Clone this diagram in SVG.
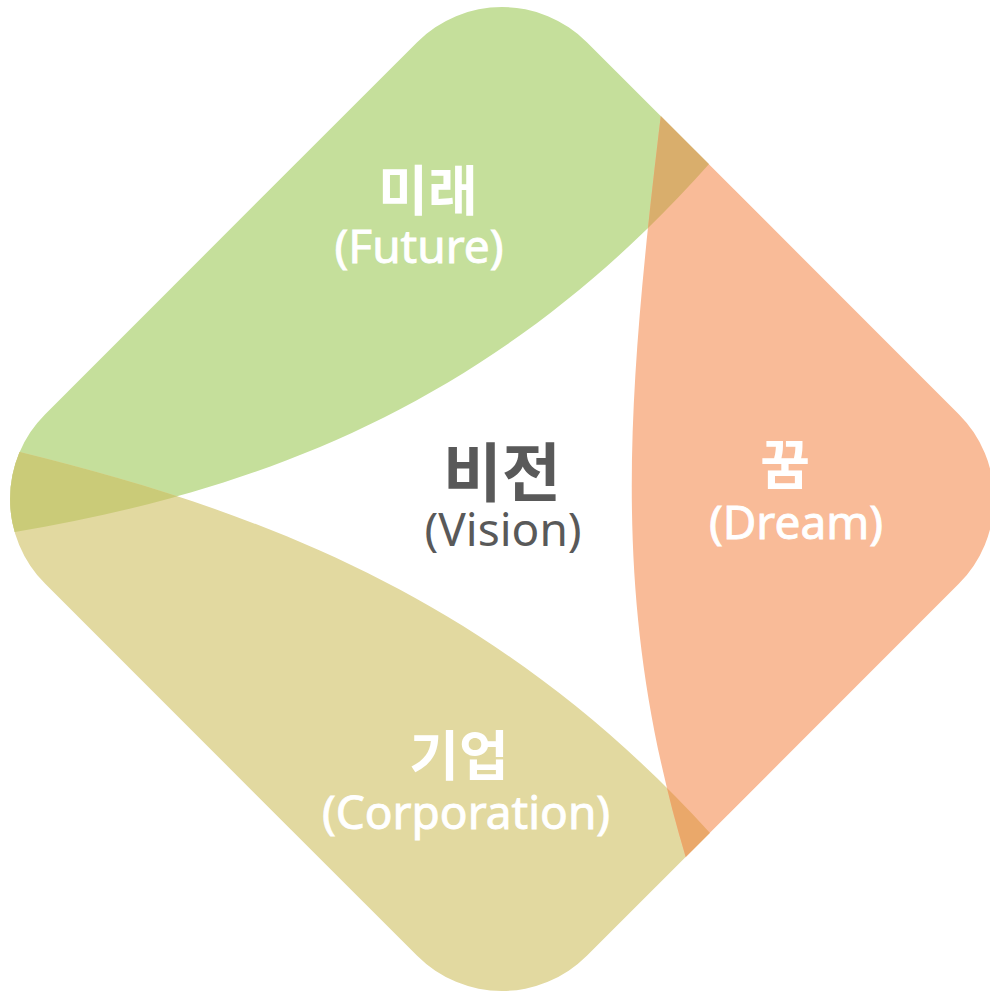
<svg xmlns="http://www.w3.org/2000/svg" width="990" height="993" viewBox="0 0 990 993">
<style>
.lbl{fill:#ffffff;text-anchor:middle;font-family:"Noto Sans","Noto Sans CJK KR",sans-serif}
.ko{font-family:"Noto Sans CJK KR","Noto Sans",sans-serif;font-weight:700}
.en{font-size:46px}
.wt{stroke:#ffffff;stroke-width:0.9}
.dark{fill:#595959}
</style>
<defs>
<clipPath id="cDiamond"><rect x="-383" y="-383" width="766" height="766" rx="120" transform="translate(502,499) rotate(45)"/></clipPath>
<clipPath id="cOrange"><path d="M668,40 L661,114 C625,414 611,608 686,858 L705,920 L1100,920 L1100,40 Z"/></clipPath>
<clipPath id="cTan"><path d="M-40,437 L20,452 C265,512 500,602 710,833 L760,888 L760,1050 L-40,1050 Z"/></clipPath>
</defs>
<g clip-path="url(#cDiamond)">
<g id="future-shape"><path fill="#C5DF9B" d="M-45,542 L15,532 C265,490 500,400 710,163 L760,107 L760,-20 L-45,-20 Z"/></g>
<g id="corporation-shape"><path fill="#E2D9A0" d="M-40,437 L20,452 C265,512 500,602 710,833 L760,888 L760,1050 L-40,1050 Z"/></g>
<g id="dream-shape"><path fill="#F9BB98" d="M668,40 L661,114 C625,414 611,608 686,858 L705,920 L1100,920 L1100,40 Z"/></g>
<g id="overlaps">
<g clip-path="url(#cOrange)"><path fill="#D9AE6C" d="M-45,542 L15,532 C265,490 500,400 710,163 L760,107 L760,-20 L-45,-20 Z"/></g>
<g clip-path="url(#cTan)"><path fill="#CACB78" d="M-45,542 L15,532 C265,490 500,400 710,163 L760,107 L760,-20 L-45,-20 Z"/></g>
<g clip-path="url(#cTan)"><path fill="#EAA86A" d="M668,40 L661,114 C625,414 611,608 686,858 L705,920 L1100,920 L1100,40 Z"/></g>
</g>
</g>
<g id="future">
<text class="lbl ko" x="428" y="211" font-size="54">미래</text>
<text class="lbl en wt" x="419" y="263">(Future)</text>
</g>
<g id="dream">
<text class="lbl ko" x="785" y="485" font-size="54">꿈</text>
<text class="lbl en wt" x="796" y="539">(Dream)</text>
</g>
<g id="corporation">
<text class="lbl ko" x="459" y="776" font-size="54">기업</text>
<text class="lbl en wt" x="466" y="829" font-size="47">(Corporation)</text>
</g>
<g id="vision">
<text class="lbl ko dark" x="502" y="496" font-size="64">비전</text>
<text class="lbl en dark" x="503" y="546">(Vision)</text>
</g>
</svg>
